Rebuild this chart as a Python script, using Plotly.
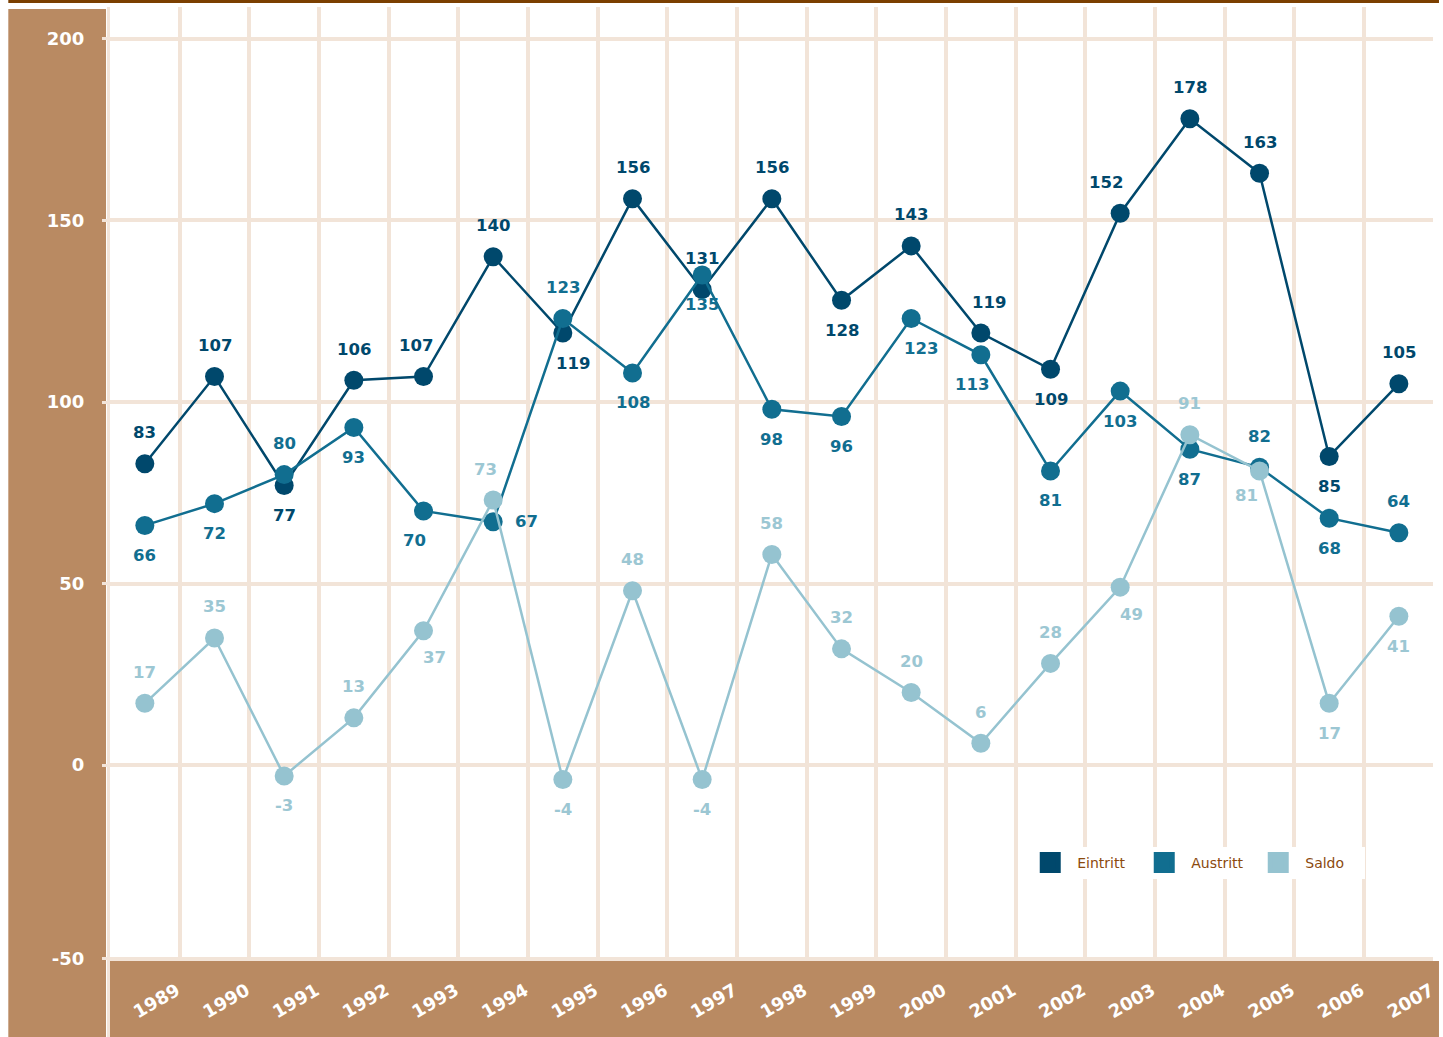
import plotly.graph_objects as go

years = [1989, 1990, 1991, 1992, 1993, 1994, 1995, 1996, 1997, 1998,
         1999, 2000, 2001, 2002, 2003, 2004, 2005, 2006, 2007]
eintritt = [83, 107, 77, 106, 107, 140, 119, 156, 131, 156,
            128, 143, 119, 109, 152, 178, 163, 85, 105]
austritt = [66, 72, 80, 93, 70, 67, 123, 108, 135, 98,
            96, 123, 113, 81, 103, 87, 82, 68, 64]
saldo = [17, 35, -3, 13, 37, 73, -4, 48, -4, 58,
         32, 20, 6, 28, 49, 91, 81, 17, 41]
series_names = ["Eintritt", "Austritt", "Saldo"]
ytick_vals = [-53.4, 0, 50, 100, 150, 200]
ytick_text = ["-50", "0", "50", "100", "150", "200"]

# label placement codes (style only)
eintritt_pos = ["t", "t", "b", "t", "tl", "t", "br", "t", "t", "t",
                "b", "t", "tr", "b", "tl2", "t", "t", "b", "t"]
austritt_pos = ["b", "b", "t", "b", "bl", "r", "t", "b", "b", "b",
                "b", "br", "bl", "b", "b", "b", "t", "b", "t"]
saldo_pos = ["t", "t", "b", "t", "sbr", "tl", "b", "t", "b", "t",
             "t", "t", "t", "t", "sbr", "t", "sbl", "b", "b"]
offsets = {"t": (0, 31), "b": (0, -30), "r": (33, 0), "tl": (-8, 31),
           "tl2": (-14, 31), "tr": (8, 31), "bl": (-9, -30), "br": (10, -30),
           "sbr": (11, -27), "sbl": (-13, -25)}

colors = ["#00486c", "#116e90", "#95c3d0"]
label_colors = ["#00486c", "#116e90", "#9cc7d3"]
grid_c = "#f2e4d8"
brown = "#b98a62"
dark_brown = "#7b3f00"
FONT = "DejaVu Sans"

W, H = 1443, 1037
ML, MR, MT, MB = 110, 6, 7, 77
PW, PH = W - ML - MR, H - MT - MB


def px_x(p):
    return (p - ML) / PW


def px_y(p):
    return (H - MB - p) / PH


fig = go.Figure()
all_series = [eintritt, austritt, saldo]
for name, vals, col in zip(series_names, all_series, colors):
    fig.add_trace(go.Scatter(x=years, y=vals, mode="lines+markers", name=name,
                             line=dict(color=col, width=2.5),
                             marker=dict(color=col, size=19),
                             showlegend=False, hoverinfo="x+y+name"))
for name, col in zip(series_names, colors):
    fig.add_trace(go.Scatter(x=[None], y=[None], mode="markers", name=name,
                             marker=dict(color=col, size=16, symbol="square",
                                         line=dict(color=col, width=5))))

annotations = []
for vals, poss, lc in zip(all_series, [eintritt_pos, austritt_pos, saldo_pos], label_colors):
    for yr, v, p in zip(years, vals, poss):
        dx, dy = offsets[p]
        annotations.append(dict(x=yr, y=v, text=str(v), showarrow=False,
                                xshift=dx, yshift=dy,
                                font=dict(family=FONT, size=16.5, color=lc, weight="bold")))

shapes = [
    # left band
    dict(type="rect", xref="paper", yref="paper", x0=px_x(8), x1=px_x(106),
         y0=px_y(H), y1=px_y(9), fillcolor=brown, line_width=0, layer="below"),
    # bottom band
    dict(type="rect", xref="paper", yref="paper", x0=px_x(110), x1=px_x(W),
         y0=px_y(H), y1=px_y(961), fillcolor=brown, line_width=0, layer="below"),
    # top line
    dict(type="rect", xref="paper", yref="paper", x0=px_x(8), x1=px_x(W),
         y0=px_y(3), y1=px_y(0), fillcolor=dark_brown, line_width=0, layer="below"),
    # axis line
    dict(type="line", xref="paper", yref="paper", x0=px_x(108.5), x1=px_x(108.5),
         y0=px_y(H), y1=px_y(7), line=dict(color=grid_c, width=3), layer="above"),
]

fig.update_layout(
    width=W, height=H, autosize=False,
    margin=dict(l=ML, r=MR, t=MT, b=MB, pad=0),
    paper_bgcolor="white", plot_bgcolor="white",
    font=dict(family=FONT),
    shapes=shapes, annotations=annotations,
    legend=dict(orientation="h", x=px_x(1026), y=px_y(847), xanchor="left", yanchor="top",
                bgcolor="white", borderwidth=0,
                font=dict(family=FONT, size=14, color="#8b4a0e"),
                itemwidth=44, entrywidth=55),
    xaxis=dict(range=[1988.5, 2007.49], tickvals=years, ticktext=[str(y) for y in years],
               showgrid=False, zeroline=False, showline=False,
               tickangle=-30, ticks="",
               tickfont=dict(family=FONT, size=18, color="white", weight="bold"),
               ticklabelshift=32, ticklabelstandoff=16,
               minor=dict(tick0=1988.5, dtick=1, showgrid=True, gridcolor=grid_c,
                          gridwidth=3.5, ticks="")),
    yaxis=dict(range=[-53.7, 208.8], tickvals=ytick_vals, ticktext=ytick_text,
               showgrid=True, gridcolor=grid_c, gridwidth=3.5, zeroline=False,
               showline=False, ticks="outside", ticklen=7, tickwidth=3, tickcolor=grid_c,
               ticklabelstandoff=14,
               tickfont=dict(family=FONT, size=18, color="white", weight="bold")),
)

fig.write_html("out.html", config={"displayModeBar": False},
               post_script="document.body.style.margin='0';")
